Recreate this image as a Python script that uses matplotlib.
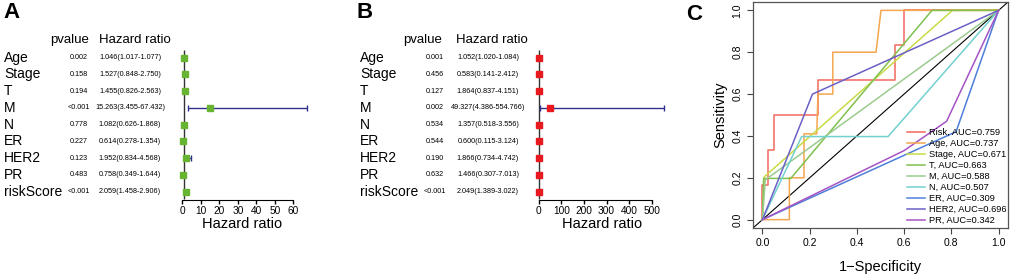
import numpy as np
import matplotlib
matplotlib.use("Agg")
import matplotlib.pyplot as plt
from matplotlib.transforms import blended_transform_factory

plt.rcParams['font.family'] = ['Liberation Sans', 'DejaVu Sans']

# ---- forest plot data ----
variables = ["Age", "Stage", "T", "M", "N", "ER", "HER2", "PR", "riskScore"]

p_uni = ["0.002", "0.158", "0.194", "<0.001", "0.778", "0.227", "0.123", "0.483", "<0.001"]
hr_uni = [1.046, 1.527, 1.455, 15.263, 1.082, 0.614, 1.952, 0.758, 2.059]
low_uni = [1.017, 0.848, 0.826, 3.455, 0.626, 0.278, 0.834, 0.349, 1.458]
high_uni = [1.077, 2.750, 2.563, 67.432, 1.868, 1.354, 4.568, 1.644, 2.906]

p_multi = ["0.001", "0.456", "0.127", "0.002", "0.534", "0.544", "0.190", "0.632", "<0.001"]
hr_multi = [1.052, 0.583, 1.864, 49.327, 1.357, 0.600, 1.866, 1.466, 2.049]
low_multi = [1.020, 0.141, 0.837, 4.386, 0.518, 0.115, 0.734, 0.307, 1.389]
high_multi = [1.084, 2.412, 4.151, 554.766, 3.556, 3.124, 4.742, 7.013, 3.022]

# ---- ROC data (fpr, tpr) ----
roc_names = ["Risk", "Age", "Stage", "T", "M", "N", "ER", "HER2", "PR"]
roc_auc = ["0.759", "0.737", "0.671", "0.663", "0.588", "0.507", "0.309", "0.696", "0.342"]
roc_fpr = [
    [0, 0, 0.024, 0.024, 0.048, 0.048, 0.236, 0.236, 0.56, 0.56, 0.598, 0.598, 1],
    [0, 0.114, 0.114, 0.176, 0.176, 0.23, 0.235, 0.298, 0.298, 0.481, 0.502, 1],
    [0, 0.008, 0.805, 1],
    [0, 0.005, 0.12, 0.718, 1],
    [0, 0.012, 1],
    [0, 0.166, 0.532, 1],
    [0, 0.82, 1],
    [0, 0.212, 1],
    [0, 0.6, 0.78, 1],
]
roc_tpr = [
    [0, 0.167, 0.167, 0.333, 0.333, 0.5, 0.5, 0.667, 0.667, 0.833, 0.833, 1, 1],
    [0, 0, 0.2, 0.2, 0.41, 0.41, 0.6, 0.6, 0.8, 0.8, 1, 1],
    [0, 0.205, 1, 1],
    [0, 0.197, 0.197, 1, 1],
    [0, 0.19, 1],
    [0, 0.397, 0.397, 1],
    [0, 0.42, 1],
    [0, 0.6, 1],
    [0, 0.33, 0.47, 1],
]
roc_colors = ["#F26A5E", "#F4A650", "#C9DB45", "#80C04E", "#9BCB8E",
              "#73D0D0", "#4E7ED8", "#6A60C6", "#A653C4"]

W, H = 1010, 274
fig = plt.figure(figsize=(W / 100, H / 100), dpi=100)


def box(x0, y0, x1, y1):
    # pixel box (from top-left) -> figure fraction rect
    return [x0 / W, 1 - y1 / H, (x1 - x0) / W, (y1 - y0) / H]


def forest(x0, x1, xlim, ticks, hr, low, high, pv, color, label_x, p_x, hr_x, head_p, head_hr):
    ax = fig.add_axes(box(x0, 47.6, x1, 200))
    n = len(variables)
    ypos = np.arange(n, 0, -1)
    ax.set_xlim(*xlim)
    ax.set_ylim(0.5, 9.6)
    ax.vlines(1, 0.55, 9.45, color="#333333", lw=1)
    err = [np.array(hr) - np.array(low), np.array(high) - np.array(hr)]
    ax.errorbar(hr, ypos, xerr=err, fmt="none", ecolor="#2F2F8C", elinewidth=1,
                capsize=2.2, capthick=1)
    ax.plot(hr, ypos, "s", color=color, ms=4.8, mec=color)
    for s in ["top", "right", "left"]:
        ax.spines[s].set_visible(False)
    ax.spines["bottom"].set_bounds(ticks[0], ticks[-1])
    ax.set_yticks([])
    ax.set_xticks(ticks)
    ax.tick_params(axis="x", labelsize=7.3, length=3, pad=1, width=1)
    ax.set_xlabel("Hazard ratio", fontsize=10.5, labelpad=1)

    tr = blended_transform_factory(fig.transFigure, ax.transData)
    for i, y in enumerate(ypos):
        ax.text(label_x / W, y, variables[i], transform=tr, fontsize=10,
                ha="left", va="center")
        ax.text(p_x / W, y, pv[i], transform=tr, fontsize=5.2, ha="center", va="center")
        ax.text(hr_x / W, y, f"{hr[i]:.3f}({low[i]:.3f}-{high[i]:.3f})", transform=tr,
                fontsize=5.2, ha="center", va="center")
    fig.text(head_p / W, 1 - 40 / H, "pvalue", fontsize=9.5, ha="center", va="center")
    fig.text(head_hr / W, 1 - 40 / H, "Hazard ratio", fontsize=9.5, ha="center", va="center")
    return ax


# ---- panel A ----
forest(174.6, 310.2, (-4, 69), [0, 10, 20, 30, 40, 50, 60], hr_uni, low_uni, high_uni,
       p_uni, "#67B433", 4, 79, 130, 70, 135)
fig.text(3 / W, 1 - 13 / H, "A", fontsize=16, fontweight="bold", va="center")

# ---- panel B ----
forest(534.2, 669.8, (-20, 580), [0, 100, 200, 300, 400, 500], hr_multi, low_multi,
       high_multi, p_multi, "#E8191E", 360, 435, 488, 423, 492)
fig.text(357 / W, 1 - 13 / H, "B", fontsize=16, fontweight="bold", va="center")

# ---- panel C ----
axc = fig.add_axes(box(753, 2, 1008, 228))
axc.set_xlim(-0.04, 1.04)
axc.set_ylim(-0.04, 1.04)
axc.plot([-0.04, 1.04], [-0.04, 1.04], color="black", lw=0.8)
for i in range(len(roc_names)):
    axc.plot(roc_fpr[i], roc_tpr[i], color=roc_colors[i], lw=1.1,
             label=f"{roc_names[i]}, AUC={roc_auc[i]}")
ticks = [0.0, 0.2, 0.4, 0.6, 0.8, 1.0]
axc.set_xticks(ticks)
axc.set_yticks(ticks)
axc.set_xticklabels([f"{t:.1f}" for t in ticks])
axc.set_yticklabels([f"{t:.1f}" for t in ticks], rotation=90, va="center")
axc.tick_params(labelsize=7.5, length=4, width=0.8, color="#444444")
for s in axc.spines.values():
    s.set_color("#555555")
    s.set_linewidth(0.9)
axc.set_xlabel("1\u2212Specificity", fontsize=10.5, labelpad=8)
axc.set_ylabel("Sensitivity", fontsize=10.5, labelpad=4)
axc.legend(loc="lower left", bbox_to_anchor=(905 / W, 1 - 227 / H),
           bbox_transform=fig.transFigure, frameon=False, fontsize=6.7,
           handlelength=2.0, handletextpad=0.4, labelspacing=0.22,
           borderpad=0.2, borderaxespad=0)
fig.text(686 / W, 1 - 15 / H, "C", fontsize=16, fontweight="bold", va="center")

fig.savefig("out.png", dpi=100)
